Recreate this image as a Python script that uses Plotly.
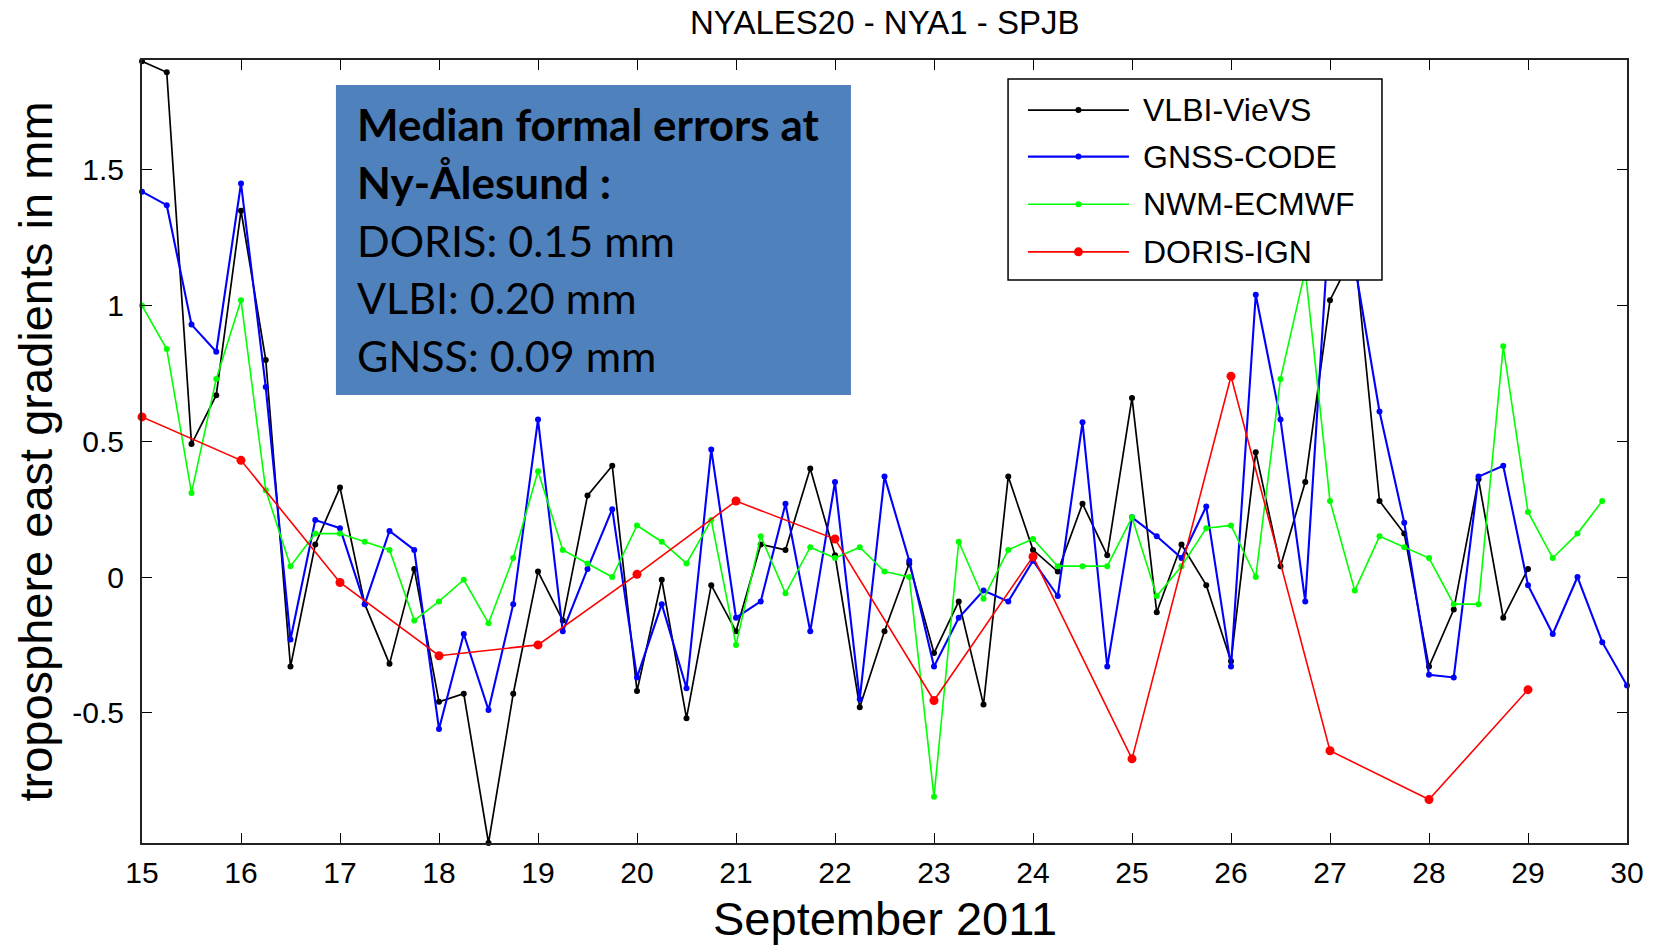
import plotly.graph_objects as go

# ---- data: east gradients (mm), Ny-Alesund, 15-30 September 2011 ----
epochs_6h = [15 + 0.25 * k for k in range(61)]  # 6-hourly epochs, day of month
days = list(range(15, 30))                      # daily epochs for DORIS

vlbi_vievs = [
    1.90, 1.86, 0.49, 0.67, 1.35, 0.80, -0.33, 0.12,
    0.33, -0.10, -0.32, 0.03, -0.46, -0.43, -0.98, -0.43,
    0.02, -0.16, 0.30, 0.41, -0.42, -0.01, -0.52, -0.03,
    -0.20, 0.12, 0.10, 0.40, 0.08, -0.48, -0.20, 0.05,
    -0.28, -0.09, -0.47, 0.37, 0.10, 0.02, 0.27, 0.08,
    0.66, -0.13, 0.12, -0.03, -0.31, 0.46, 0.04, 0.35,
    1.02, 1.20, 0.28, 0.16, -0.33, -0.12, 0.36, -0.15,
    0.03,
]
gnss_code = [
    1.42, 1.37, 0.93, 0.83, 1.45, 0.70, -0.23, 0.21,
    0.18, -0.10, 0.17, 0.10, -0.56, -0.21, -0.49, -0.10,
    0.58, -0.20, 0.03, 0.25, -0.37, -0.10, -0.41, 0.47,
    -0.15, -0.09, 0.27, -0.20, 0.35, -0.45, 0.37, 0.06,
    -0.33, -0.15, -0.05, -0.09, 0.06, -0.07, 0.57, -0.33,
    0.22, 0.15, 0.07, 0.26, -0.33, 1.04, 0.58, -0.09,
    1.35, 1.15, 0.61, 0.20, -0.36, -0.37, 0.37, 0.41,
    -0.03, -0.21, 0.00, -0.24, -0.40,
]
nwm_ecmwf = [
    1.00, 0.84, 0.31, 0.73, 1.02, 0.32, 0.04, 0.16,
    0.16, 0.13, 0.10, -0.16, -0.09, -0.01, -0.17, 0.07,
    0.39, 0.10, 0.05, 0.00, 0.19, 0.13, 0.05, 0.21,
    -0.25, 0.15, -0.06, 0.11, 0.07, 0.11, 0.02, 0.00,
    -0.81, 0.13, -0.08, 0.10, 0.14, 0.04, 0.04, 0.04,
    0.22, -0.07, 0.04, 0.18, 0.19, 0.00, 0.73, 1.13,
    0.28, -0.05, 0.15, 0.11, 0.07, -0.10, -0.10, 0.85,
    0.24, 0.07, 0.16, 0.28,
]
doris_ign = [
    0.59, 0.43, -0.02, -0.29, -0.25, 0.01, 0.28, 0.14,
    -0.455, 0.075, -0.67, 0.74, -0.64, -0.82, -0.415,
]

x_ticks = list(range(15, 31))
y_ticks = [-0.5, 0, 0.5, 1, 1.5]
y_ticktext = ["-0.5", "0", "0.5", "1", "1.5"]

series = [
    ("VLBI-VieVS", epochs_6h[:len(vlbi_vievs)], vlbi_vievs, "#000000", 1.7, 6),
    ("GNSS-CODE", epochs_6h[:len(gnss_code)], gnss_code, "#0000FF", 2.1, 6),
    ("NWM-ECMWF", epochs_6h[:len(nwm_ecmwf)], nwm_ecmwf, "#00FF00", 1.6, 6),
    ("DORIS-IGN", days, doris_ign, "#FF0000", 1.6, 9),
]

FONT = "Liberation Sans, Arial, sans-serif"
BOX_FONT = "Lato, Open Sans, sans-serif"

fig = go.Figure()
for name, xs, ys, color, lw, ms in series:
    fig.add_trace(go.Scatter(
        x=xs, y=ys, mode="lines+markers", name=name,
        line=dict(color=color, width=lw),
        marker=dict(color=color, size=ms),
        cliponaxis=False, showlegend=False,
    ))

# ---- framed legend, drawn in paper coordinates ----
shapes = [dict(type="rect", xref="paper", yref="paper",
               x0=0.5832, x1=0.835, y0=0.719, y1=0.9757,
               line=dict(color="black", width=1.5), fillcolor="white",
               layer="above")]
annotations = []
legend_rows = [0.9361, 0.8766, 0.8158, 0.7550]
for (name, _, _, color, lw, ms), yrow in zip(series, legend_rows):
    shapes.append(dict(type="line", xref="paper", yref="paper",
                       x0=0.5966, x1=0.6646, y0=yrow, y1=yrow,
                       line=dict(color=color, width=lw), layer="above"))
    r = ms / 2
    shapes.append(dict(type="circle", xref="paper", yref="paper",
                       xsizemode="pixel", ysizemode="pixel",
                       xanchor=0.6306, yanchor=yrow,
                       x0=-r, x1=r, y0=-r, y1=r,
                       fillcolor=color, line=dict(color=color, width=0),
                       layer="above"))
    annotations.append(dict(xref="paper", yref="paper", x=0.6727, y=yrow,
                            xanchor="left", yanchor="middle", showarrow=False,
                            text=name, font=dict(family=FONT, size=32, color="black")))

# ---- info box ----
shapes.append(dict(type="rect", xref="paper", yref="paper",
                   x0=0.1306, x1=0.4774, y0=0.5722, y1=0.968,
                   line=dict(width=0), fillcolor="#4F81BD", layer="above"))
box_lines = [
    ("<b>Median formal errors at</b>", 0.9185, 44),
    ("<b>Ny-Ålesund :</b>", 0.8442, 44),
    ("DORIS: 0.15 mm", 0.7699, 43),
    ("VLBI: 0.20 mm", 0.6969, 43),
    ("GNSS: 0.09 mm", 0.6226, 43),
]
for txt, yy, fs in box_lines:
    annotations.append(dict(xref="paper", yref="paper", x=0.1436, y=yy,
                            xanchor="left", yanchor="middle", showarrow=False,
                            text=txt, font=dict(family=BOX_FONT, size=fs, color="black")))

# ---- titles ----
annotations.append(dict(xref="paper", yref="paper", x=0.5, y=1.0473,
                        xanchor="center", yanchor="middle", showarrow=False,
                        text="NYALES20 - NYA1 - SPJB",
                        font=dict(family=FONT, size=33, color="black")))
annotations.append(dict(xref="paper", yref="paper", x=0.5, y=-0.0958,
                        xanchor="center", yanchor="middle", showarrow=False,
                        text="September 2011",
                        font=dict(family=FONT, size=47, color="black")))
annotations.append(dict(xref="paper", yref="paper", x=-0.072, y=0.5,
                        xanchor="center", yanchor="middle", showarrow=False,
                        textangle=-90, text="troposphere east gradients in mm",
                        font=dict(family=FONT, size=47, color="black")))

fig.update_layout(
    width=1659, height=945,
    margin=dict(l=142, r=32, t=60, b=102),
    paper_bgcolor="white", plot_bgcolor="white",
    showlegend=False,
    shapes=shapes, annotations=annotations,
    font=dict(family=FONT, color="black"),
)
fig.update_xaxes(
    range=[15, 30], tickvals=x_ticks, ticks="inside", ticklen=10, tickwidth=1,
    tickcolor="black", showline=True, linecolor="#222222", linewidth=2,
    mirror="ticks", showgrid=False, zeroline=False,
    tickfont=dict(family=FONT, size=30, color="black"), ticklabelstandoff=2,
)
fig.update_yaxes(
    range=[-0.98, 1.905], tickvals=y_ticks, ticktext=y_ticktext,
    ticks="inside", ticklen=10, tickwidth=1, tickcolor="black",
    showline=True, linecolor="#222222", linewidth=2, mirror="ticks",
    showgrid=False, zeroline=False,
    tickfont=dict(family=FONT, size=30, color="black"), ticklabelstandoff=10,
)

fig.write_html("out.html")
